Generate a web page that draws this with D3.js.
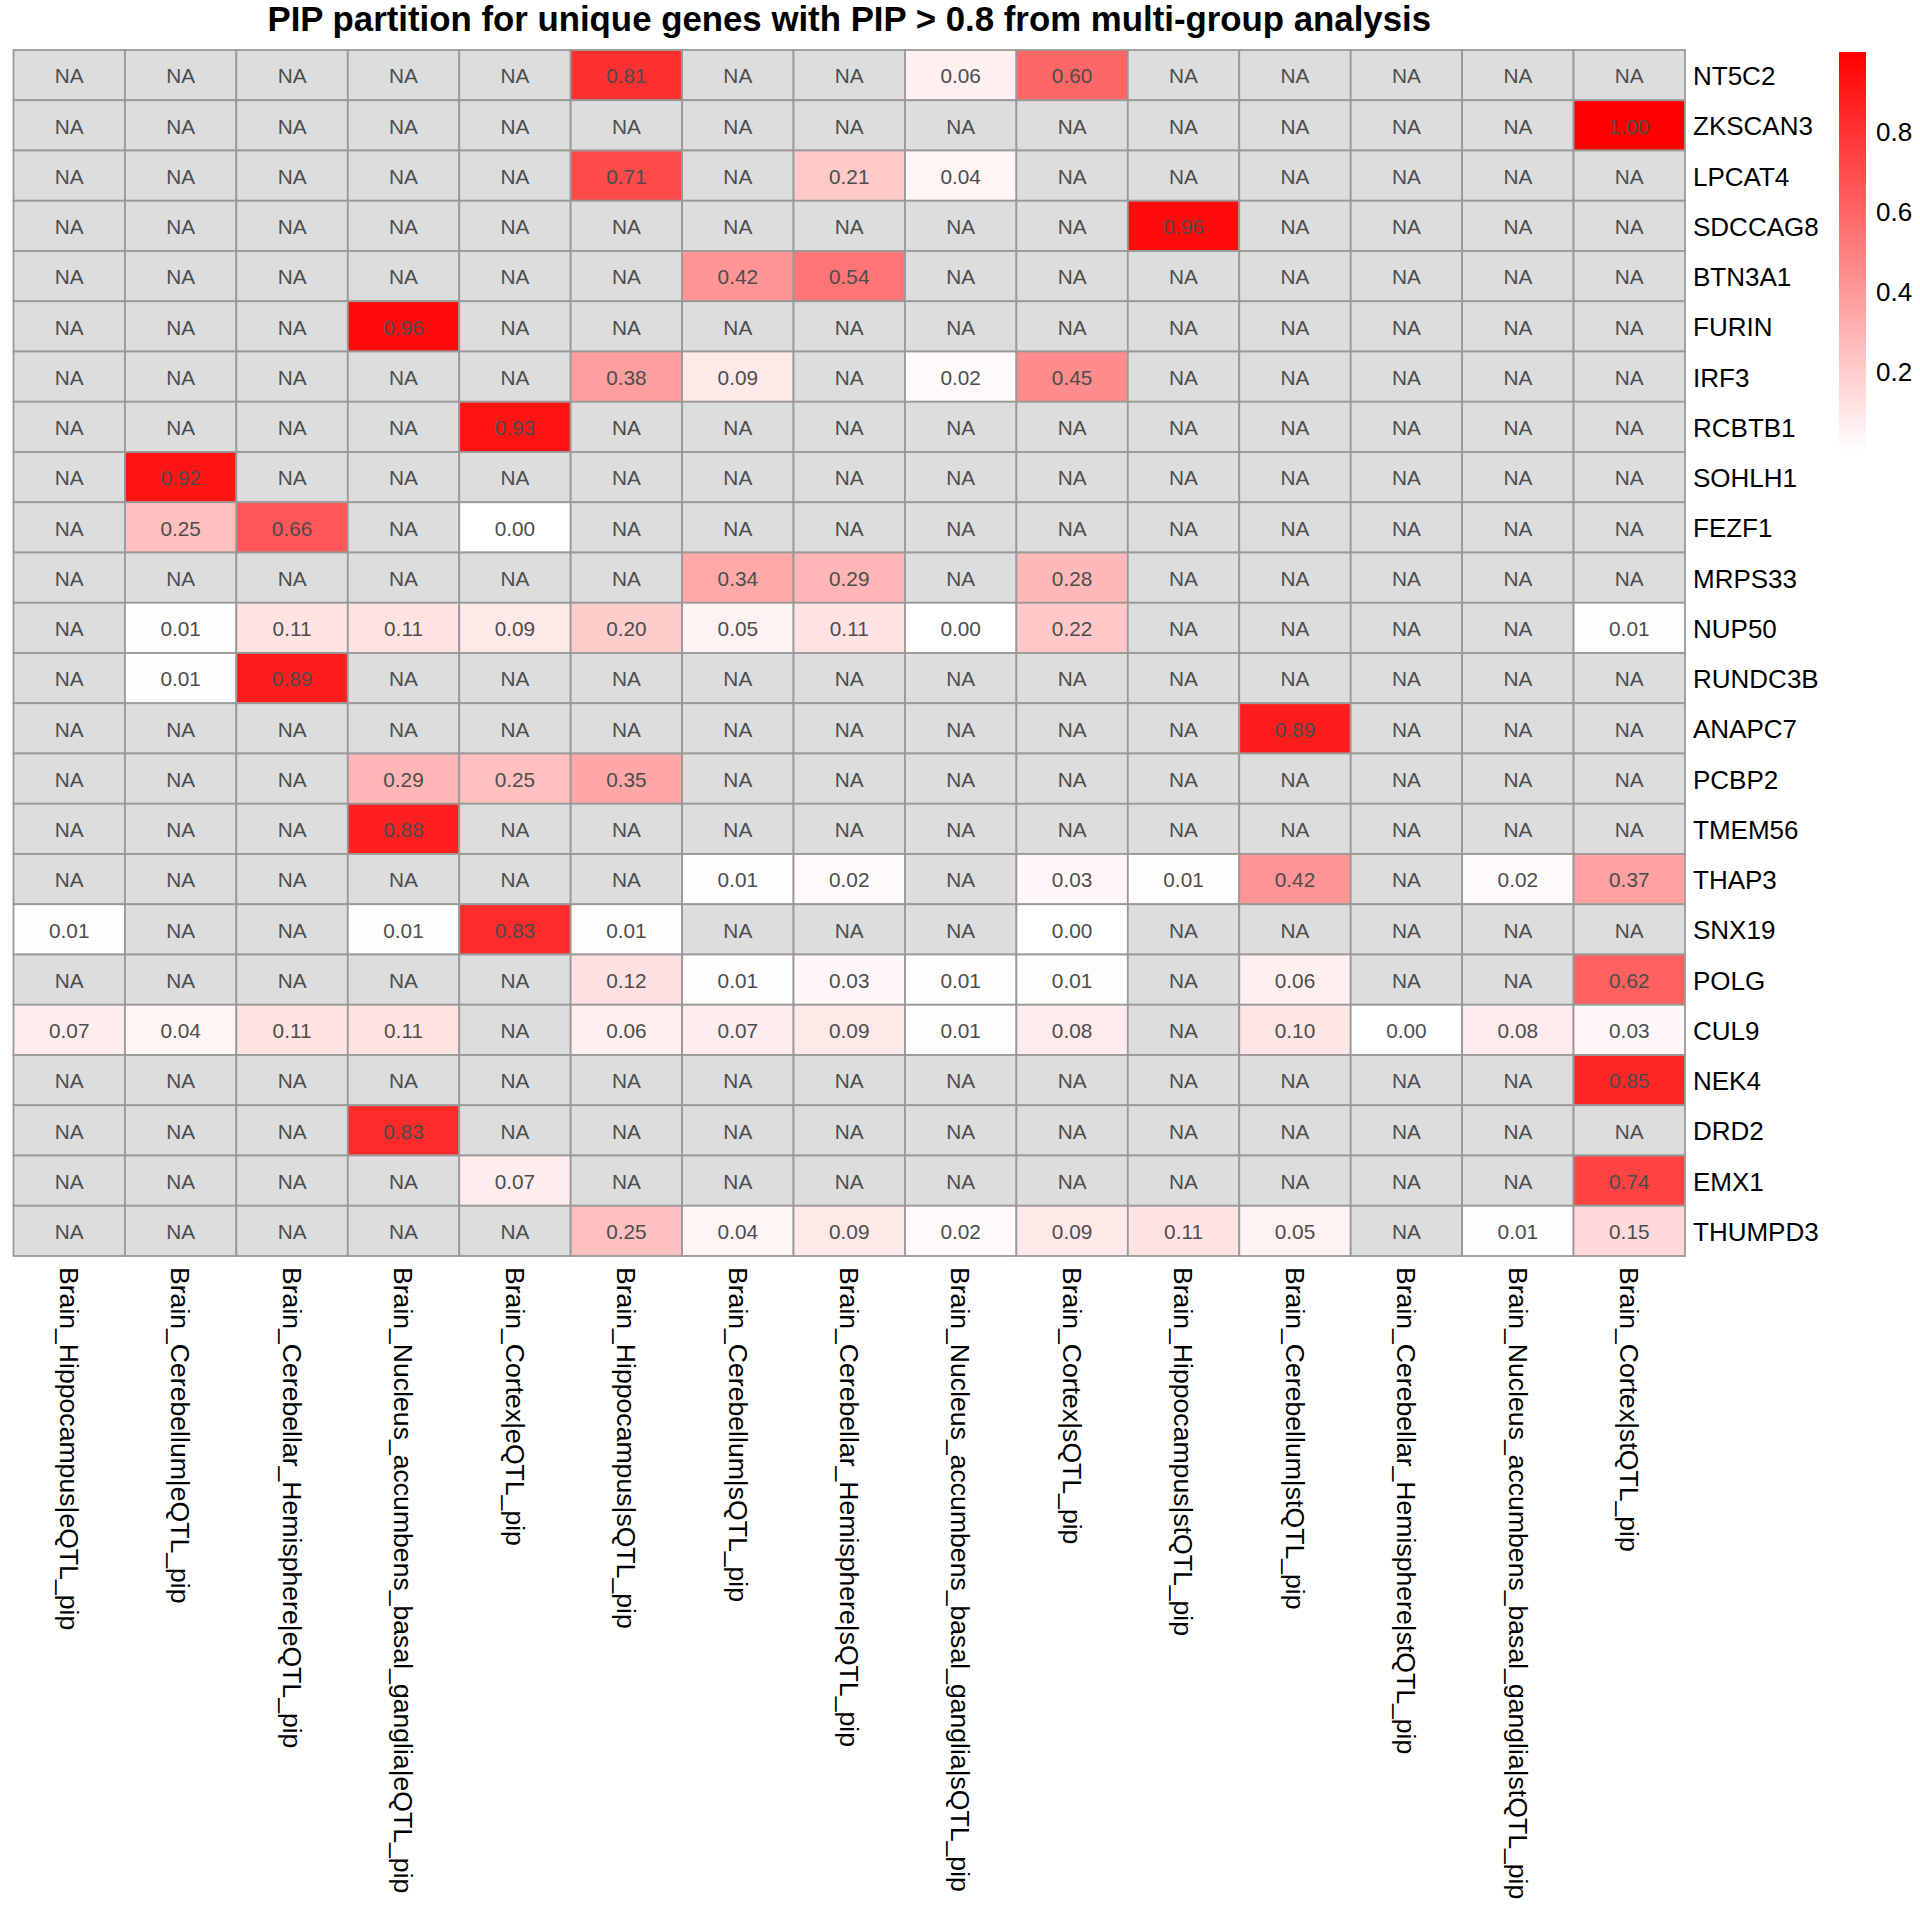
<!DOCTYPE html>
<html>
<head>
<meta charset="utf-8">
<script src="https://cdn.jsdelivr.net/npm/d3@7"></script>
<style>
  body { margin: 0; background: #fff; }
  text { font-family: "Liberation Sans", Arial, Helvetica, sans-serif; }
</style>
</head>
<body>
<script>
var title = "PIP partition for unique genes with PIP > 0.8 from multi-group analysis";

var tissues = [
  "Brain_Hippocampus|eQTL_pip",
  "Brain_Cerebellum|eQTL_pip",
  "Brain_Cerebellar_Hemisphere|eQTL_pip",
  "Brain_Nucleus_accumbens_basal_ganglia|eQTL_pip",
  "Brain_Cortex|eQTL_pip",
  "Brain_Hippocampus|sQTL_pip",
  "Brain_Cerebellum|sQTL_pip",
  "Brain_Cerebellar_Hemisphere|sQTL_pip",
  "Brain_Nucleus_accumbens_basal_ganglia|sQTL_pip",
  "Brain_Cortex|sQTL_pip",
  "Brain_Hippocampus|stQTL_pip",
  "Brain_Cerebellum|stQTL_pip",
  "Brain_Cerebellar_Hemisphere|stQTL_pip",
  "Brain_Nucleus_accumbens_basal_ganglia|stQTL_pip",
  "Brain_Cortex|stQTL_pip"
];

var genes = ["NT5C2", "ZKSCAN3", "LPCAT4", "SDCCAG8", "BTN3A1", "FURIN", "IRF3",
  "RCBTB1", "SOHLH1", "FEZF1", "MRPS33", "NUP50", "RUNDC3B", "ANAPC7", "PCBP2",
  "TMEM56", "THAP3", "SNX19", "POLG", "CUL9", "NEK4", "DRD2", "EMX1", "THUMPD3"];

// one row per gene, one entry per tissue, null = NA
var _ = null;
var pip = [
  [_, _, _, _, _, 0.81, _, _, 0.06, 0.60, _, _, _, _, _],
  [_, _, _, _, _, _, _, _, _, _, _, _, _, _, 1.00],
  [_, _, _, _, _, 0.71, _, 0.21, 0.04, _, _, _, _, _, _],
  [_, _, _, _, _, _, _, _, _, _, 0.96, _, _, _, _],
  [_, _, _, _, _, _, 0.42, 0.54, _, _, _, _, _, _, _],
  [_, _, _, 0.96, _, _, _, _, _, _, _, _, _, _, _],
  [_, _, _, _, _, 0.38, 0.09, _, 0.02, 0.45, _, _, _, _, _],
  [_, _, _, _, 0.93, _, _, _, _, _, _, _, _, _, _],
  [_, 0.92, _, _, _, _, _, _, _, _, _, _, _, _, _],
  [_, 0.25, 0.66, _, 0.00, _, _, _, _, _, _, _, _, _, _],
  [_, _, _, _, _, _, 0.34, 0.29, _, 0.28, _, _, _, _, _],
  [_, 0.01, 0.11, 0.11, 0.09, 0.20, 0.05, 0.11, 0.00, 0.22, _, _, _, _, 0.01],
  [_, 0.01, 0.89, _, _, _, _, _, _, _, _, _, _, _, _],
  [_, _, _, _, _, _, _, _, _, _, _, 0.89, _, _, _],
  [_, _, _, 0.29, 0.25, 0.35, _, _, _, _, _, _, _, _, _],
  [_, _, _, 0.88, _, _, _, _, _, _, _, _, _, _, _],
  [_, _, _, _, _, _, 0.01, 0.02, _, 0.03, 0.01, 0.42, _, 0.02, 0.37],
  [0.01, _, _, 0.01, 0.83, 0.01, _, _, _, 0.00, _, _, _, _, _],
  [_, _, _, _, _, 0.12, 0.01, 0.03, 0.01, 0.01, _, 0.06, _, _, 0.62],
  [0.07, 0.04, 0.11, 0.11, _, 0.06, 0.07, 0.09, 0.01, 0.08, _, 0.10, 0.00, 0.08, 0.03],
  [_, _, _, _, _, _, _, _, _, _, _, _, _, _, 0.85],
  [_, _, _, 0.83, _, _, _, _, _, _, _, _, _, _, _],
  [_, _, _, _, 0.07, _, _, _, _, _, _, _, _, _, 0.74],
  [_, _, _, _, _, 0.25, 0.04, 0.09, 0.02, 0.09, 0.11, 0.05, _, 0.01, 0.15]
];

var legendTicks = [0.2, 0.4, 0.6, 0.8];

var W = 1920, H = 1920;
var grid = { left: 13.5, right: 1685, top: 50, bottom: 1256 };

var svg = d3.select("body").append("svg")
  .attr("width", W).attr("height", H);

svg.append("rect").attr("width", W).attr("height", H).attr("fill", "#fff");

var x = d3.scaleBand().domain(tissues).range([grid.left, grid.right]);
var y = d3.scaleBand().domain(genes).range([grid.top, grid.bottom]);
var color = d3.scaleLinear().domain([0, 1]).range(["#ffffff", "#ff0000"]);

var cells = [];
genes.forEach(function (g, i) {
  tissues.forEach(function (t, j) {
    cells.push({ gene: g, tissue: t, v: pip[i][j] });
  });
});

var cell = svg.append("g").selectAll("g")
  .data(cells)
  .enter().append("g");

cell.append("rect")
  .attr("x", function (d) { return x(d.tissue); })
  .attr("y", function (d) { return y(d.gene); })
  .attr("width", x.bandwidth())
  .attr("height", y.bandwidth())
  .attr("fill", function (d) { return d.v === null ? "#dddddd" : color(d.v); })
  .attr("stroke", "#999999")
  .attr("stroke-width", 1.8);

cell.append("text")
  .attr("x", function (d) { return x(d.tissue) + x.bandwidth() / 2; })
  .attr("y", function (d) { return y(d.gene) + y.bandwidth() / 2; })
  .attr("dy", "0.4em")
  .attr("text-anchor", "middle")
  .attr("font-size", 20.8)
  .attr("fill", "#4d4d4d")
  .text(function (d) { return d.v === null ? "NA" : d.v.toFixed(2); });

// row labels
svg.append("g").selectAll("text")
  .data(genes)
  .enter().append("text")
  .attr("x", grid.right + 8)
  .attr("y", function (d) { return y(d) + y.bandwidth() / 2; })
  .attr("dy", "0.38em")
  .attr("font-size", 26)
  .attr("fill", "#000")
  .text(function (d) { return d; });

// column labels, rotated
svg.append("g").selectAll("text")
  .data(tissues)
  .enter().append("text")
  .attr("transform", function (d) {
    return "translate(" + (x(d) + x.bandwidth() / 2) + "," + (grid.bottom + 11) + ") rotate(90)";
  })
  .attr("dy", "0.35em")
  .attr("font-size", 26.6)
  .attr("fill", "#000")
  .text(function (d) { return d; });

// title
svg.append("text")
  .attr("x", (grid.left + grid.right) / 2)
  .attr("y", 31)
  .attr("text-anchor", "middle")
  .attr("font-size", 34.8)
  .attr("font-weight", "bold")
  .text(title);

// legend
var ly = d3.scaleLinear().domain([0, 1]).range([452, 52]);
var defs = svg.append("defs");
var grad = defs.append("linearGradient")
  .attr("id", "pipgrad")
  .attr("x1", "0").attr("y1", "1").attr("x2", "0").attr("y2", "0");
grad.append("stop").attr("offset", "0%").attr("stop-color", color(0));
grad.append("stop").attr("offset", "100%").attr("stop-color", color(1));

svg.append("rect")
  .attr("x", 1839)
  .attr("y", ly(1))
  .attr("width", 27)
  .attr("height", ly(0) - ly(1))
  .attr("fill", "url(#pipgrad)");

svg.append("g").selectAll("text")
  .data(legendTicks)
  .enter().append("text")
  .attr("x", 1876)
  .attr("y", function (d) { return ly(d); })
  .attr("dy", "0.35em")
  .attr("font-size", 26)
  .text(function (d) { return d.toFixed(1); });
</script>
</body>
</html>
